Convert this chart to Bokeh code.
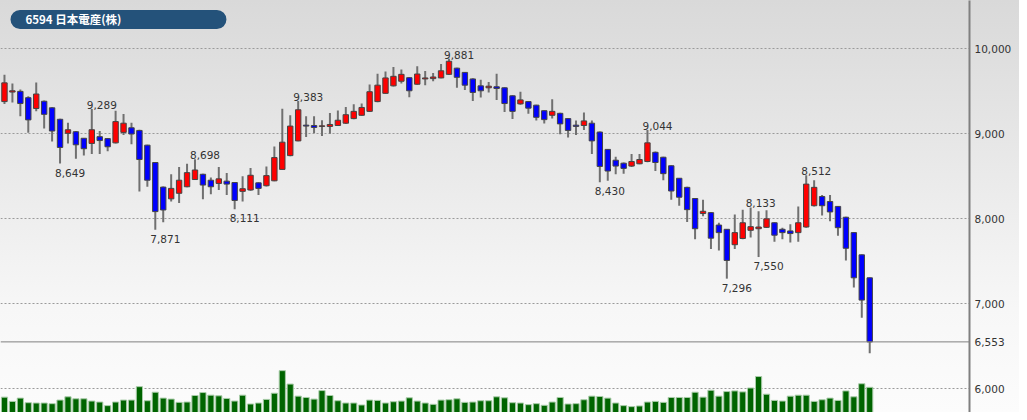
from bokeh.plotting import figure
from bokeh.models import ColumnDataSource, Range1d, FixedTicker, NumeralTickFormatter, Span, Label
from bokeh.core.properties import value
from bokeh.embed import file_html
from bokeh.resources import INLINE

title_text = "6594 日本電産(株)"

opens = [9377, 9489, 9497, 9423, 9296, 9381, 9304, 9169, 9004, 9023,
         8946, 8885, 8965, 8942, 8892, 9015, 9069, 9038, 8865, 8661,
         8372, 8234, 8299, 8376, 8461, 8523, 8453, 8415, 8442, 8426,
         8322, 8338, 8422, 8388, 8446, 8580, 8742, 8915, 9100, 9096,
         9085, 9085, 9096, 9123, 9177, 9216, 9262, 9377, 9474, 9562,
         9616, 9658, 9581, 9643, 9647, 9655, 9697, 9770, 9720, 9643,
         9562, 9539, 9551, 9539, 9445, 9350, 9377, 9335, 9270, 9216,
         9239, 9177, 9100, 9096, 9123, 9019, 8815, 8688, 8653, 8619,
         8646, 8673, 8781, 8723, 8623, 8476, 8369, 8238, 8061, 8072,
         7926, 7876, 7695, 7768, 7864, 7883, 7899, 7953, 7876, 7857,
         7837, 7903, 8153, 8261, 8203, 8145, 8018, 7837, 7576, 7306]
highs = [9693, 9589, 9520, 9440, 9601, 9390, 9310, 9175, 9127, 9030,
         8950, 9289, 9031, 8950, 9270, 9231, 9127, 9045, 8870, 8665,
         8380, 8523, 8607, 8646, 8698, 8530, 8484, 8607, 8538, 8430,
         8499, 8596, 8430, 8615, 8850, 9293, 9216, 9383, 9204, 9204,
         9158, 9243, 9273, 9312, 9347, 9354, 9578, 9705, 9732, 9782,
         9755, 9665, 9793, 9735, 9712, 9820, 9881, 9775, 9725, 9650,
         9635, 9608, 9705, 9545, 9450, 9493, 9385, 9340, 9275, 9404,
         9245, 9180, 9154, 9250, 9154, 9025, 8820, 8730, 8660, 8761,
         8761, 9044, 8790, 8730, 8630, 8480, 8375, 8245, 8222, 8078,
         7953, 7880, 8049, 8107, 8133, 8088, 8099, 7960, 7895, 7934,
         8145, 8512, 8453, 8280, 8280, 8150, 8025, 7845, 7580, 7310]
lows = [9350, 9366, 9204, 9012, 9262, 9062, 8908, 8649, 8885, 8704,
        8742, 8761, 8761, 8792, 8885, 8985, 8877, 8319, 8376, 7871,
        7960, 8203, 8184, 8370, 8455, 8230, 8288, 8338, 8280, 8111,
        8203, 8330, 8280, 8380, 8440, 8575, 8735, 8910, 8961, 9004,
        8973, 9000, 9090, 9115, 9170, 9210, 9255, 9370, 9468, 9555,
        9589, 9427, 9575, 9570, 9616, 9650, 9690, 9539, 9512, 9385,
        9424, 9485, 9396, 9254, 9173, 9340, 9235, 9154, 9119, 9177,
        8992, 8954, 8985, 9042, 8761, 8430, 8446, 8523, 8530, 8607,
        8640, 8665, 8561, 8453, 8222, 8153, 7961, 7760, 8030, 7645,
        7626, 7296, 7645, 7760, 7780, 7550, 7890, 7730, 7760, 7722,
        7730, 7895, 8145, 8037, 7972, 7799, 7510, 7191, 6836, 6420]
closes = [9597, 9504, 9354, 9162, 9466, 9227, 9031, 8838, 9046, 8869,
          8823, 9046, 8919, 8846, 9142, 9123, 8996, 8696, 8453, 8084,
          8103, 8357, 8453, 8542, 8573, 8396, 8376, 8469, 8407, 8215,
          8353, 8511, 8357, 8507, 8719, 8900, 9089, 9281, 9089, 9073,
          9092, 9108, 9158, 9223, 9262, 9308, 9493, 9570, 9655, 9674,
          9697, 9504, 9701, 9655, 9666, 9739, 9851, 9662, 9570, 9485,
          9504, 9558, 9531, 9354, 9262, 9397, 9300, 9192, 9165, 9262,
          9115, 9038, 9085, 9150, 8915, 8615, 8561, 8619, 8592, 8673,
          8696, 8892, 8661, 8530, 8326, 8253, 8107, 7883, 8088, 7772,
          7837, 7510, 7837, 7953, 7907, 7903, 7999, 7807, 7837, 7826,
          7953, 8407, 8369, 8153, 8080, 7895, 7653, 7306, 7044, 6553]
volumes = [1880, 1360, 1760, 1200, 1160, 1160, 1080, 1520, 1920, 1680,
           1680, 1400, 1280, 840, 1280, 1520, 1520, 3160, 1440, 2480,
           1760, 1640, 1240, 1280, 2080, 2440, 2120, 2040, 1720, 1400,
           2120, 1040, 1160, 1600, 2360, 5120, 3480, 2000, 1840, 1640,
           2680, 2080, 1440, 1160, 1160, 920, 1520, 1480, 1160, 1320,
           1400, 1800, 1400, 1160, 1000, 1520, 1560, 1680, 1240, 1280,
           1440, 1440, 1920, 1800, 1200, 1160, 960, 1080, 880, 1280,
           1840, 1040, 1080, 1560, 2000, 1960, 1760, 1160, 840, 720,
           800, 1280, 1360, 1240, 1840, 1840, 1840, 2480, 1880, 2720,
           2000, 2560, 2640, 2520, 3000, 4400, 2240, 1480, 1400, 2000,
           2120, 2120, 1360, 1560, 1760, 1480, 2640, 1920, 3520, 3080]

price_ticks = [6000, 7000, 8000, 9000, 10000]
high_label_idx = [11, 24, 37, 56, 81, 94, 101]
low_label_idx = [7, 19, 29, 75, 91, 95]

UP, DOWN = "#ff0000", "#0000ff"
n = len(closes)
idx = list(range(n))
src = ColumnDataSource(dict(
    x=idx, h=highs, l=lows,
    top=[max(o, c) for o, c in zip(opens, closes)],
    bottom=[min(o, c) for o, c in zip(opens, closes)],
    color=[UP if c >= o else DOWN for o, c in zip(opens, closes)],
    vol=volumes,
))

p = figure(width=1019, height=412, x_range=Range1d(-0.5, 121.57),
           y_range=Range1d(5723, 10565), y_axis_location="right", x_axis_location=None,
           toolbar_location=None, output_backend="svg", title=None,
           min_border_left=0, min_border_top=0, min_border_bottom=0, min_border_right=50,
           background_fill_color=None, border_fill_color=None, outline_line_color=None)
p.styles = {"background": "linear-gradient(180deg, #d9d9d9 0%, #e9e9e9 40%, #f7f7f7 75%, #fcfcfc 100%)"}

p.extra_y_ranges = {"vol": Range1d(0, 50400)}
p.vbar(x="x", top="vol", width=0.78, source=src, y_range_name="vol",
       fill_color="#006400", line_color="#a9cca9", line_width=1)

p.segment(x0="x", y0="l", x1="x", y1="h", source=src, line_color="#707070", line_width=2)
p.vbar(x="x", top="top", bottom="bottom", width=0.68, source=src,
       fill_color="color", line_color="#444444", line_width=1)

hsrc = ColumnDataSource(dict(x=high_label_idx, y=[highs[i] for i in high_label_idx],
                             t=[f"{highs[i]:,}" for i in high_label_idx]))
lsrc = ColumnDataSource(dict(x=low_label_idx, y=[lows[i] for i in low_label_idx],
                             t=[f"{lows[i]:,}" for i in low_label_idx]))
common = dict(text="t", text_align="left", x_offset=-5, text_font=value("DejaVu Sans"),
              text_font_size="10.5px", text_color="#333333")
p.text(x="x", y="y", source=hsrc, y_offset=-4, text_baseline="alphabetic", **common)
p.text(x="x", y="y", source=lsrc, y_offset=5, text_baseline="top", **common)

p.add_layout(Span(location=closes[-1], dimension="width", line_color="#808080", line_width=1))

ax = p.yaxis[0]
ax.ticker = FixedTicker(ticks=price_ticks + [closes[-1]])
ax.formatter = NumeralTickFormatter(format="0,0")
ax.major_tick_out = 0
ax.major_tick_in = 0
ax.minor_tick_out = 0
ax.minor_tick_in = 0
ax.axis_line_color = "#808080"
ax.axis_line_width = 2
ax.major_label_standoff = 5
ax.major_label_text_font = "DejaVu Sans"
ax.major_label_text_font_size = "10.5px"
ax.major_label_text_color = "#333333"

p.ygrid.ticker = FixedTicker(ticks=price_ticks)
p.ygrid.grid_line_color = "#9a9a9a"
p.ygrid.grid_line_dash = "2 2"
p.ygrid.grid_line_width = 1
p.xgrid.visible = False

p.add_layout(Label(x=10, y=393, x_units="screen", y_units="screen", text=title_text,
                   text_align="left", text_baseline="middle",
                   text_font="Noto Sans CJK JP", text_font_size="11.5px", text_font_style="bold",
                   text_color="white", background_fill_color="#24527a", border_radius=10,
                   padding=dict(left=15, right=105, top=1, bottom=2)))

open("out.html", "w").write(file_html(p, INLINE))
